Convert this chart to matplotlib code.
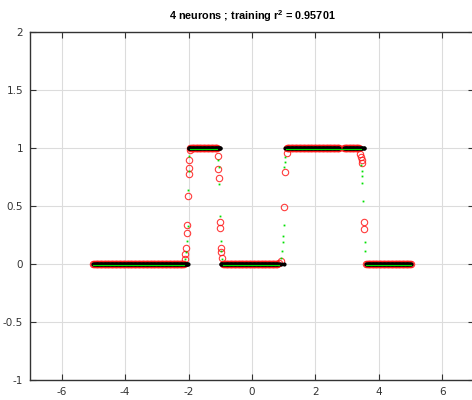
import matplotlib
matplotlib.use("Agg")
import matplotlib.pyplot as plt
import numpy as np

# target: step function
step_edges = [-5.0, -2.0, -1.0, 1.0, 3.55, 5.0]
step_levels = [0, 1, 0, 1, 0]

# training inputs on the flat parts, network output sits on the target there
plateau_x = [
    [-5.0, -4.95, -4.9, -4.85, -4.8, -4.75, -4.7, -4.65, -4.6, -4.55, -4.5, -4.45,
     -4.4, -4.35, -4.3, -4.25, -4.2, -4.15, -4.1, -4.05, -4.0, -3.95, -3.9, -3.85,
     -3.8, -3.75, -3.7, -3.65, -3.6, -3.55, -3.5, -3.45, -3.4, -3.35, -3.3, -3.25,
     -3.2, -3.15, -3.1, -3.05, -3.0, -2.95, -2.9, -2.85, -2.8, -2.75, -2.7, -2.65,
     -2.6, -2.55, -2.5, -2.45, -2.4, -2.35, -2.3, -2.25, -2.2, -2.15],
    [-1.95, -1.9, -1.85, -1.8, -1.75, -1.7, -1.65, -1.6, -1.55, -1.5, -1.45, -1.4,
     -1.35, -1.3, -1.25, -1.2, -1.15, -1.1],
    [-0.92, -0.88, -0.85, -0.8, -0.75, -0.7, -0.65, -0.6, -0.55, -0.5, -0.45, -0.4,
     -0.35, -0.3, -0.25, -0.2, -0.15, -0.1, -0.05, 0.0, 0.05, 0.1, 0.15, 0.2, 0.25,
     0.3, 0.35, 0.4, 0.45, 0.5, 0.55, 0.6, 0.65, 0.7, 0.75, 0.8],
    [1.1, 1.15, 1.2, 1.25, 1.3, 1.35, 1.4, 1.45, 1.5, 1.55, 1.6, 1.65, 1.7, 1.75,
     1.8, 1.85, 1.9, 1.95, 2.0, 2.05, 2.1, 2.15, 2.2, 2.25, 2.3, 2.35, 2.4, 2.45,
     2.5, 2.55, 2.6, 2.65, 2.7, 2.75, 2.9, 2.95, 3.0, 3.05, 3.1, 3.15, 3.2, 3.25,
     3.3, 3.35, 3.38],
    [3.6, 3.65, 3.7, 3.75, 3.8, 3.85, 3.9, 3.95, 4.0, 4.05, 4.1, 4.15, 4.2, 4.25,
     4.3, 4.35, 4.4, 4.45, 4.5, 4.55, 4.6, 4.65, 4.7, 4.75, 4.8, 4.85, 4.9, 4.95, 5.0],
]
# more training inputs between the ones above, same plateaus
plateau_x_b = [
    [-4.975, -4.925, -4.875, -4.825, -4.775, -4.725, -4.675, -4.625, -4.575, -4.525,
     -4.475, -4.425, -4.375, -4.325, -4.275, -4.225, -4.175, -4.125, -4.075, -4.025,
     -3.975, -3.925, -3.875, -3.825, -3.775, -3.725, -3.675, -3.625, -3.575, -3.525,
     -3.475, -3.425, -3.375, -3.325, -3.275, -3.225, -3.175, -3.125, -3.075, -3.025,
     -2.975, -2.925, -2.875, -2.825, -2.775, -2.725, -2.675, -2.625, -2.575, -2.525,
     -2.475, -2.425, -2.375, -2.325, -2.275, -2.225, -2.175],
    [-1.925, -1.875, -1.825, -1.775, -1.725, -1.675, -1.625, -1.575, -1.525, -1.475,
     -1.425, -1.375, -1.325, -1.275, -1.225, -1.175, -1.125],
    [-0.825, -0.775, -0.725, -0.675, -0.625, -0.575, -0.525, -0.475, -0.425, -0.375,
     -0.325, -0.275, -0.225, -0.175, -0.125, -0.075, -0.025, 0.025, 0.075, 0.125,
     0.175, 0.225, 0.275, 0.325, 0.375, 0.425, 0.475, 0.525, 0.575, 0.625, 0.675,
     0.725, 0.775],
    [1.125, 1.175, 1.225, 1.275, 1.325, 1.375, 1.425, 1.475, 1.525, 1.575, 1.625,
     1.675, 1.725, 1.775, 1.825, 1.875, 1.925, 1.975, 2.025, 2.075, 2.125, 2.175,
     2.225, 2.275, 2.325, 2.375, 2.425, 2.475, 2.525, 2.575, 2.625, 2.675, 2.725,
     2.925, 2.975, 3.025, 3.075, 3.125, 3.175, 3.225, 3.275, 3.325],
    [3.625, 3.675, 3.725, 3.775, 3.825, 3.875, 3.925, 3.975, 4.025, 4.075, 4.125,
     4.175, 4.225, 4.275, 4.325, 4.375, 4.425, 4.475, 4.525, 4.575, 4.625, 4.675,
     4.725, 4.775, 4.825, 4.875, 4.925, 4.975],
]
plateau_pred = [-0.004, 1.0, -0.004, 1.0, -0.004]

# training inputs on the ramps and the network output there
ramp_x = [-2.12, -2.10, -2.09, -2.04, -2.035, -2.01, -1.99, -1.985, -1.98, -1.97,
          -1.08, -1.06, -1.04, -1.01, -1.005, -0.98, -0.97, -0.95,
          0.85, 0.91, 0.995, 1.04, 1.09,
          3.41, 3.43, 3.46, 3.47, 3.54, 3.545]
ramp_pred = [0.043, 0.086, 0.14, 0.265, 0.34, 0.59, 0.78, 0.825, 0.90, 0.98,
             0.93, 0.82, 0.74, 0.36, 0.31, 0.135, 0.10, 0.05,
             0.01, 0.03, 0.49, 0.79, 0.96,
             0.95, 0.92, 0.90, 0.87, 0.365, 0.30]

# network output on a fine test grid (green)
test_flat_x = [(-5.0, -2.13), (-1.96, -1.09), (-0.93, 0.86), (1.08, 3.43), (3.58, 5.0)]
test_flat_y = [-0.01, 0.99, -0.01, 0.99, -0.01]
test_ramp_x = [-2.11, -2.08, -2.05, -2.03, -2.01, -1.995, -1.98,
               -1.07, -1.05, -1.04, -1.01, -0.99, -0.97, -0.95,
               0.93, 0.96, 0.97, 0.98, 1.0, 1.02, 1.03, 1.05,
               3.45, 3.46, 3.47, 3.48, 3.50, 3.55, 3.57]
test_ramp_y = [0.04, 0.1, 0.2, 0.33, 0.64, 0.8, 0.93,
               0.9, 0.84, 0.69, 0.41, 0.2, 0.11, 0.04,
               0.05, 0.11, 0.19, 0.24, 0.34, 0.84, 0.88, 0.92,
               0.85, 0.8, 0.76, 0.70, 0.54, 0.19, 0.11]

title = "4 neurons ; training $\\mathrm{r}^2$ = 0.95701"

plt.rcParams["mathtext.fontset"] = "custom"
plt.rcParams["mathtext.rm"] = "Liberation Sans:bold"
plt.rcParams["mathtext.it"] = "Liberation Sans:bold"
plt.rcParams["mathtext.bf"] = "Liberation Sans:bold"

# assemble training set
plat_xs = [np.array(a + b) for a, b in zip(plateau_x, plateau_x_b)]
x_train = np.concatenate(plat_xs + [np.array(ramp_x)])
y_pred = np.concatenate([np.full(len(p), v) for p, v in zip(plat_xs, plateau_pred)]
                        + [np.array(ramp_pred)])
seg = np.clip(np.searchsorted(step_edges, x_train, side="right") - 1, 0, len(step_levels) - 1)
y_target = np.array(step_levels)[seg]

fig = plt.figure(figsize=(4.72, 4.0), dpi=100)
ax = fig.add_axes([30 / 472, 20 / 400, 444 / 472, 348 / 400])

ax.plot(x_train, y_pred, "o", mfc="none", mec="#ff1a1a", mew=0.8, ms=4.6, alpha=0.85)
ax.plot(x_train, y_target, "o", color="black", ms=3.0, mew=0)
for (x0, x1), yv in zip(test_flat_x, test_flat_y):
    ax.plot([x0, x1], [yv, yv], "-", color="#00e000", lw=0.8)
ax.plot(test_ramp_x, test_ramp_y, "s", color="#00e000", ms=1.3, mew=0)

ax.set_xlim(-7, 7)
ax.set_ylim(-1, 2)
ax.set_xticks([-6, -4, -2, 0, 2, 4, 6])
ax.set_yticks([-1, -0.5, 0, 0.5, 1, 1.5, 2])
ax.set_yticklabels(["-1", "-0.5", "0", "0.5", "1", "1.5", "2"])
ax.set_xticklabels(["-6", "-4", "-2", "0", "2", "4", "6"])
ax.grid(True, color="#dcdcdc", lw=0.8)
ax.set_axisbelow(True)
ax.tick_params(direction="in", length=4, width=0.8, top=True, right=True,
               labelsize=7.5, colors="#333333", pad=5)
for s in ax.spines.values():
    s.set_color("#333333")
    s.set_linewidth(1.0)

ax.set_title(title, fontsize=7.8, fontweight="bold", pad=9,
             family=["Liberation Sans", "DejaVu Sans"])

fig.savefig("out.png", dpi=100)
